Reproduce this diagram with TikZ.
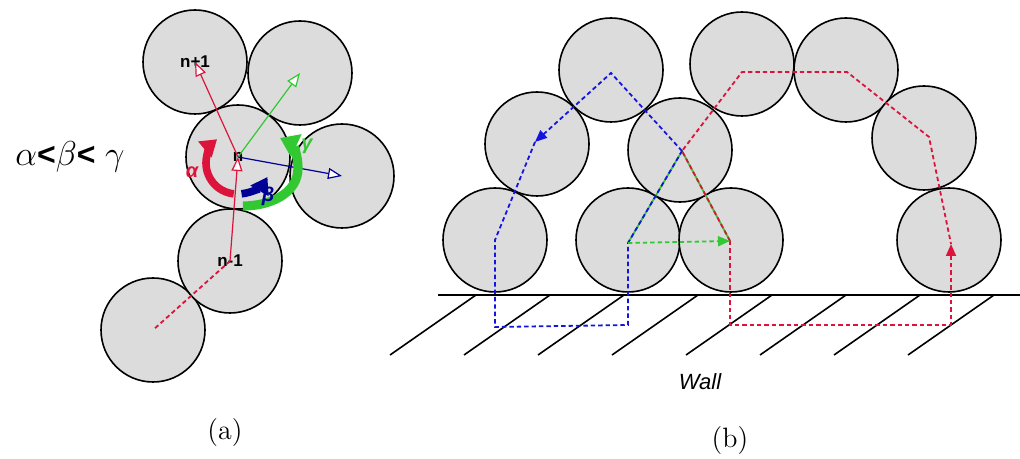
\documentclass[tikz,border=0pt]{standalone}
\usepackage{amsmath, amsfonts, amssymb}
\usepackage{fontspec}
\usepackage{xcolor}
\usepackage{tikz}
\usetikzlibrary{arrows.meta}
\newfontfamily\labfont{Liberation Sans}
\definecolor{ballgray}{RGB}{220,220,220}
\definecolor{crimson}{RGB}{220,20,60}
\definecolor{navyline}{RGB}{0,0,150}
\definecolor{limeg}{RGB}{50,200,50}
\definecolor{pathblue}{RGB}{20,20,225}
\tikzset{
  ball/.style={circle,draw=black,line width=0.8pt,fill=ballgray,minimum size=52pt,inner sep=0pt,outer sep=0pt,font=\labfont\bfseries\fontsize{8.5}{9}\selectfont},
  vec/.style={line width=0.6pt,-{Triangle[open,fill=white,length=7pt,width=5.5pt]}},
  turn/.style={line width=3.8pt,-{Triangle[length=8pt,width=10pt]}},
  greek/.style={font=\labfont\bfseries\itshape\fontsize{10}{11}\selectfont},
  dashpath/.style={line width=0.9pt,dash pattern=on 2.2pt off 1.5pt},
  tip/.style={-{Triangle[length=6pt,width=5pt]}},
  hatch/.style={line width=0.8pt}
}
\begin{document}
\begin{tikzpicture}[x=0.5pt,y=0.5pt]
\useasboundingbox (0,0) rectangle (1020,459);

% (a) chain of particles
\node[ball] (a6) at (153,129) {};
\node[ball] (a5) at (230,198) {n-1};
\node[ball] (a1) at (195,397) {n+1};
\node[ball] (a2) at (300,386) {};
\node[ball] (a4) at (342,283) {};
\node[ball] (a3) at (238,302) {n};

\draw[crimson,dashpath] (a5.center) -- (a6.center);
\draw[vec,crimson] (a5.center) -- (a3.center);
\draw[vec,crimson] (a3.center) -- (a1.center);
\draw[vec,limeg] (a3.center) -- (a2.center);
\draw[vec,navyline] (a3.center) -- (a4.center);

\coordinate (ra) at (237,296);
\coordinate (ba) at (238,299);
\draw[turn,crimson] (ra) ++(264:31) arc[start angle=264,end angle=130,radius=31];
\draw[turn,navyline] (ba) ++(-84:34) arc[start angle=-84,end angle=-30,radius=34];
\draw[limeg,line width=4.6pt,-{Triangle[length=9pt,width=12pt]}] (243,253) to[out=0,in=-90] (298,291) to[out=90,in=-25] (280,321);

\node[greek,text=crimson] (alab) at (192,287) {α};
\node[greek,text=navyline] (blab) at (268,263) {β};
\node[greek,text=limeg] (glab) at (307,313) {γ};

\node[font=\fontsize{16}{18}\selectfont] (ineq) at (70,302) {$\alpha${\labfont\bfseries <}$\beta${\labfont\bfseries <} $\gamma$};
\node[font=\fontsize{14}{16}\selectfont] (capa) at (225,26) {(a)};

% (b) arch on the wall
\node[ball] (b1) at (495,219) {};
\node[ball] (b2) at (628,219) {};
\node[ball] (b3) at (731,219) {};
\node[ball] (b4) at (949,219) {};
\node[ball] (b5) at (537,315) {};
\node[ball] (b6) at (611,389) {};
\node[ball] (b7) at (680,309) {};
\node[ball] (b8) at (742,395) {};
\node[ball] (b9) at (846,389) {};
\node[ball] (b10) at (924,321) {};

\draw[line width=1pt] (438,164) -- (1020,164);
\foreach \k in {0,...,7}
  \draw[hatch] (476+74*\k,164) -- (390+74*\k,104);

\coordinate (q1) at (495,219);
\coordinate (q1w) at (495,132);
\coordinate (q2) at (628,216);
\coordinate (q2w) at (628,134);
\coordinate (q3) at (730,218);
\coordinate (q3w) at (730,134);
\coordinate (q4) at (951,215);
\coordinate (q4w) at (951,134);
\coordinate (q5) at (535,317);
\coordinate (q6) at (611,386);
\coordinate (q7) at (682,308);
\coordinate (q8) at (742,387);
\coordinate (q9) at (847,387);
\coordinate (q10) at (929,322);

\draw[limeg,line width=0.9pt] (q2) -- (q7) -- (q3);
\draw[pathblue,dashpath,tip] (q7) -- (q6) -- (q5);
\draw[pathblue,dashpath] (q5) -- (q1) -- (q1w) -- (q2w) -- (q2) -- (q7);
\draw[crimson,dashpath] (q3) -- (q7) -- (q8) -- (q9) -- (q10) -- (q4);
\draw[crimson,dashpath,tip] (q3) -- (q3w) -- (q4w) -- (q4);
\draw[limeg,dashpath,tip] (q2) -- (q3);

\node[font=\labfont\itshape\fontsize{11}{13}\selectfont] (walltxt) at (700,77) {Wall};
\node[font=\fontsize{14}{16}\selectfont] (capb) at (730,18) {(b)};
\end{tikzpicture}
\end{document}
